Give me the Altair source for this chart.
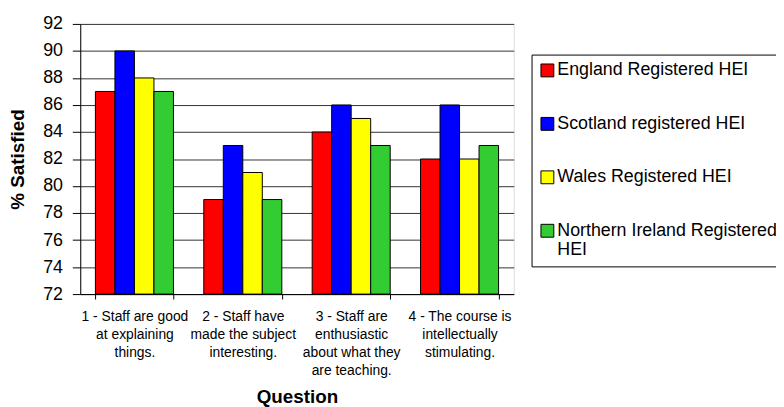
import altair as alt
import pandas as pd

questions = [
    "1 - Staff are good\nat explaining\nthings.",
    "2 - Staff have\nmade the subject\ninteresting.",
    "3 - Staff are\nenthusiastic\nabout what they\nare teaching.",
    "4 - The course is\nintellectually\nstimulating.",
]
series = [
    "England Registered HEI",
    "Scotland registered HEI",
    "Wales Registered HEI",
    "Northern Ireland Registered\nHEI",
]
england = [87, 79, 84, 82]
scotland = [90, 83, 86, 86]
wales = [88, 81, 85, 82]
northern_ireland = [87, 79, 83, 83]
colors = ["#FF0000", "#0000FF", "#FFFF00", "#33CC33"]
y_ticks = list(range(72, 93, 2))

rows = []
for s, vals in zip(series, [england, scotland, wales, northern_ireland]):
    for q, v in zip(questions, vals):
        rows.append({"Question": q, "Series": s, "Value": v})
df = pd.DataFrame(rows)

FONT = "Liberation Sans"

chart = alt.Chart(df).mark_bar(stroke="black", strokeWidth=1).encode(
    x=alt.X(
        "Question:N",
        sort=questions,
        scale=alt.Scale(paddingInner=0.28, paddingOuter=0.14),
        axis=alt.Axis(
            title="Question",
            labelAngle=0,
            labelExpr="split(datum.label, '\\n')",
            tickBand="extent",
            tickSize=5,
            tickColor="black",
            domainColor="black",
            labelFontSize=14,
            labelLineHeight=18,
            labelPadding=11,
            labelColor="black",
            labelFont=FONT,
            titleFont=FONT,
            titleFontSize=19,
            titleFontWeight="bold",
            titleColor="black",
            titlePadding=11,
            grid=False,
        ),
    ),
    xOffset=alt.XOffset("Series:N", sort=series),
    y=alt.Y(
        "Value:Q",
        scale=alt.Scale(domain=[72, 92], zero=False, nice=False),
        axis=alt.Axis(
            values=y_ticks,
            title="% Satisfied",
            tickSize=8,
            tickColor="black",
            domainColor="black",
            labelFontSize=18,
            labelPadding=10,
            labelColor="black",
            labelFont=FONT,
            titleFont=FONT,
            titleFontSize=19,
            titleFontWeight="bold",
            titleColor="black",
            titlePadding=15,
            grid=True,
            gridColor="#333333",
            gridOpacity=1,
        ),
    ),
    y2=alt.datum(72),
    color=alt.Color(
        "Series:N",
        sort=series,
        scale=alt.Scale(domain=series, range=colors),
        legend=alt.Legend(
            title=None,
            orient="none",
            legendX=456,
            legendY=31,
            labelFontSize=18,
            labelFont=FONT,
            labelColor="black",
            labelExpr="split(datum.label, '\\n')",
            labelLimit=400,
            labelOffset=1,
            symbolType="square",
            symbolSize=169,
            symbolStrokeColor="black",
            symbolStrokeWidth=1,
            strokeColor="black",
            fillColor="white",
            padding=7,
            rowPadding=36,
        ),
    ),
).properties(
    width=438,
    height=273,
    autosize=alt.AutoSizeParams(type="none"),
    padding={"left": 73, "top": 14, "right": 265, "bottom": 112},
).configure_view(
    stroke="#999999",
    strokeWidth=1,
).configure(font=FONT)

chart.save("out.html", embed_options={"renderer": "svg", "actions": False})
